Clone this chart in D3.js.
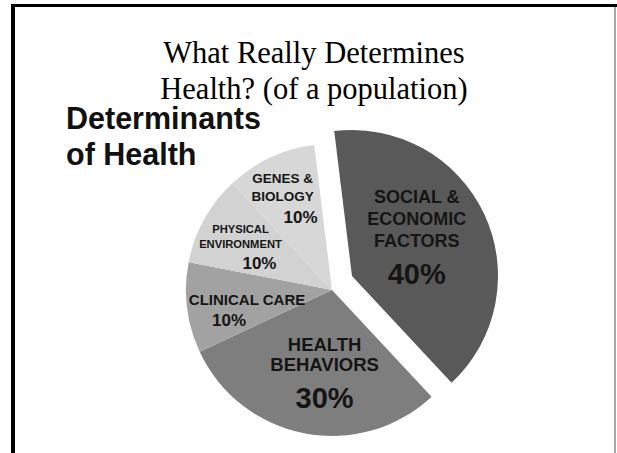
<!DOCTYPE html>
<html><head><meta charset="utf-8">
<script src="https://cdn.jsdelivr.net/npm/d3@7"></script>
<style>html,body{margin:0;padding:0;background:#fff;}svg{display:block;}</style>
</head><body>
<svg id="c" width="617" height="453"></svg>
<script>
const categories = ["SOCIAL & ECONOMIC FACTORS","HEALTH BEHAVIORS","CLINICAL CARE","PHYSICAL ENVIRONMENT","GENES & BIOLOGY"];
const labelLines = [["SOCIAL &","ECONOMIC","FACTORS"],["HEALTH","BEHAVIORS"],["CLINICAL CARE"],["PHYSICAL","ENVIRONMENT"],["GENES &","BIOLOGY"]];
const values = [40,30,10,10,10];
const pctLabels = ["40%","30%","10%","10%","10%"];
const titleLines = ["What Really Determines","Health? (of a population)"];
const subtitleLines = ["Determinants","of Health"];

const colors = ["#595959","#7e7e7e","#a2a2a2","#d2d2d2","#d7d7d7"];
// layout: label placement (radius, angle shift deg), font sizes, line gaps, offsets
const labelLayout = [
  {r:74, da:-4, fs:18, pfs:29, lh:22, pgap:37, dy:-3, dx:[0,0,0], pdx:0},
  {r:85, da:-6, fs:18.5, pfs:29, lh:20, pgap:37, dy:-2, dx:[0,0], pdx:0},
  {r:94, da:-5, fs:15, pfs:17, lh:0, pgap:21, dy:1, dx:[7], pdx:-11},
  {r:101, da:-4, fs:11.2, pfs:17, lh:15, pgap:21, dy:0, dx:[0,0], pdx:19},
  {r:106, da:-1, fs:13.5, pfs:17, lh:18, pgap:22, dy:4, dx:[-3,-3], pdx:15}
];

const svg = d3.select("#c");
// slide frame
svg.append("line").attr("x1",11).attr("x2",617).attr("y1",5.5).attr("y2",5.5).attr("stroke","#000").attr("stroke-width",3);
svg.append("line").attr("x1",13).attr("x2",13).attr("y1",4).attr("y2",453).attr("stroke","#000").attr("stroke-width",4);
svg.append("line").attr("x1",615).attr("x2",615).attr("y1",7).attr("y2",453).attr("stroke","#888").attr("stroke-width",1.5);

// title
svg.append("text").attr("text-anchor","middle")
  .attr("font-family","'Liberation Serif','Times New Roman',serif").attr("font-size",30.5).attr("fill","#000")
  .selectAll("tspan").data(titleLines).join("tspan").attr("x",314).attr("y",(d,i)=>63+i*35.5).text(d=>d);

svg.append("text")
  .attr("font-family","'Liberation Sans',Arial,sans-serif").attr("font-weight","bold").attr("font-size",30.5).attr("fill","#111")
  .selectAll("tspan").data(subtitleLines).join("tspan").attr("x",66).attr("y",(d,i)=>129+i*36).text(d=>d);

const cx = 332, cy = 290, R = 146;
const startOffset = -7*Math.PI/180;
const pie = d3.pie().value(d=>d).sort(null).startAngle(startOffset).endAngle(startOffset+2*Math.PI);
const arcs = pie(values);
const arc = d3.arc().innerRadius(0).outerRadius(R);
const explode = [[20,-14],[0,0],[0,0],[0,0],[0,0]];

const g = svg.append("g").attr("transform",`translate(${cx},${cy})`);
const slices = g.selectAll("g.s").data(arcs).join("g").attr("class","s")
  .attr("transform",(d,i)=>`translate(${explode[i][0]},${explode[i][1]})`);
slices.append("path").attr("d",arc).attr("fill",(d,i)=>colors[i]);

slices.each(function(d,i){
  const L = labelLayout[i];
  const a = (d.startAngle+d.endAngle)/2 + L.da*Math.PI/180;
  const x = L.r*Math.sin(a), y = -L.r*Math.cos(a);
  const lines = labelLines[i];
  const total = (lines.length-1)*L.lh + L.pgap;
  const y0 = y - total/2 + L.fs*0.35 + L.dy;
  const t = d3.select(this).append("text").attr("text-anchor","middle")
    .attr("font-family","'Liberation Sans',Arial,sans-serif").attr("font-weight","bold").attr("fill","#151515");
  lines.forEach((ln,k)=>{
    t.append("tspan").attr("x",x+L.dx[k]).attr("y",y0+k*L.lh).attr("font-size",L.fs).text(ln);
  });
  t.append("tspan").attr("x",x+L.pdx).attr("y",y0+(lines.length-1)*L.lh+L.pgap).attr("font-size",L.pfs).text(pctLabels[i]);
});
</script>
</body></html>
